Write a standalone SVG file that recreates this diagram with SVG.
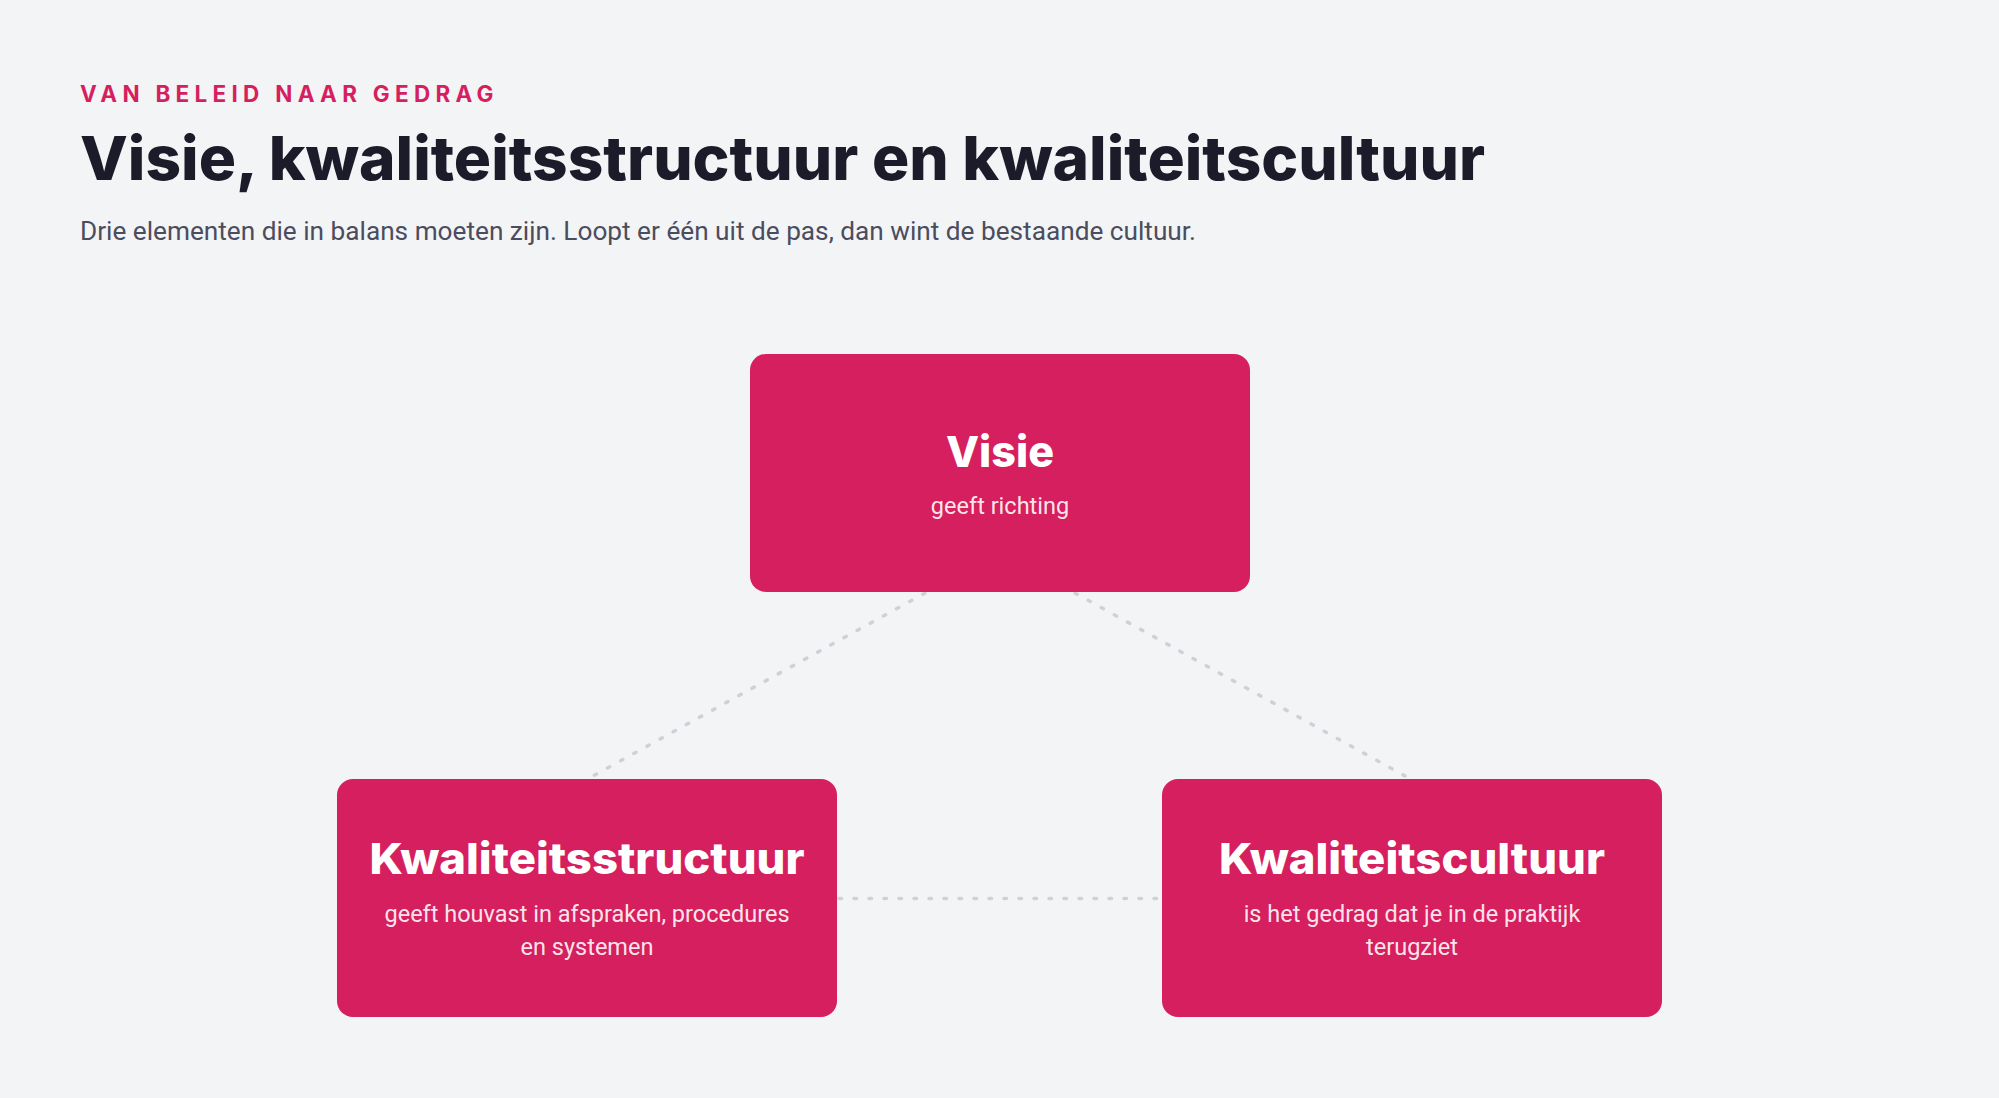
<svg xmlns="http://www.w3.org/2000/svg" width="1999" height="1098" viewBox="0 0 1999 1098">
  <style>
    .eyebrow { font-family: Inter, "Liberation Sans", sans-serif; font-weight: 700; font-size: 22.5px; fill: #D61F5E; letter-spacing: 2.5px; }
    .title { font-family: Inter, "Liberation Sans", sans-serif; font-weight: 800; font-size: 61px; fill: #1B1B29; }
    .subtitle { font-family: Roboto, "Liberation Sans", sans-serif; font-weight: 400; font-size: 26px; fill: #4B4D5E; }
    .box { fill: #D61F5E; }
    .ntitle { font-family: Inter, "Liberation Sans", sans-serif; font-weight: 800; font-size: 43px; fill: #FFFFFF; text-anchor: middle; }
    .ndesc { font-family: Roboto, "Liberation Sans", sans-serif; font-weight: 400; font-size: 23.5px; fill: #FFFFFF; fill-opacity: 0.9; text-anchor: middle; }
    .conn { stroke: #D0D1D8; stroke-width: 3.5; stroke-dasharray: 2.5 12.5; stroke-linecap: round; fill: none; }
  </style>
  <rect x="0" y="0" width="1999" height="1098" fill="#F3F4F6"/>

  <g id="header">
    <text class="eyebrow" x="80" y="102" textLength="416" lengthAdjust="spacing">VAN BELEID NAAR GEDRAG</text>
    <text class="title" x="80" y="180" textLength="1405" lengthAdjust="spacingAndGlyphs">Visie, kwaliteitsstructuur en kwaliteitscultuur</text>
    <text class="subtitle" x="80" y="240" textLength="1116" lengthAdjust="spacingAndGlyphs">Drie elementen die in balans moeten zijn. Loopt er één uit de pas, dan wint de bestaande cultuur.</text>
  </g>

  <g id="connectors">
    <line class="conn" x1="925" y1="593" x2="593" y2="776"/>
    <line class="conn" x1="1075" y1="593" x2="1405" y2="776"/>
    <line class="conn" x1="839" y1="898.5" x2="1160" y2="898.5"/>
  </g>

  <g id="node-visie">
    <rect class="box" x="750" y="354" width="500" height="238" rx="16" ry="16"/>
    <text class="ntitle" x="1000" y="467" textLength="108" lengthAdjust="spacingAndGlyphs">Visie</text>
    <text class="ndesc" x="1000" y="514">geeft richting</text>
  </g>

  <g id="node-kwaliteitsstructuur">
    <rect class="box" x="337" y="779" width="500" height="238" rx="16" ry="16"/>
    <text class="ntitle" x="587" y="874" textLength="435" lengthAdjust="spacingAndGlyphs">Kwaliteitsstructuur</text>
    <text class="ndesc" x="587" y="922">geeft houvast in afspraken, procedures</text>
    <text class="ndesc" x="587" y="955">en systemen</text>
  </g>

  <g id="node-kwaliteitscultuur">
    <rect class="box" x="1162" y="779" width="500" height="238" rx="16" ry="16"/>
    <text class="ntitle" x="1412" y="874" textLength="386" lengthAdjust="spacingAndGlyphs">Kwaliteitscultuur</text>
    <text class="ndesc" x="1412" y="922">is het gedrag dat je in de praktijk</text>
    <text class="ndesc" x="1412" y="955">terugziet</text>
  </g>
</svg>
